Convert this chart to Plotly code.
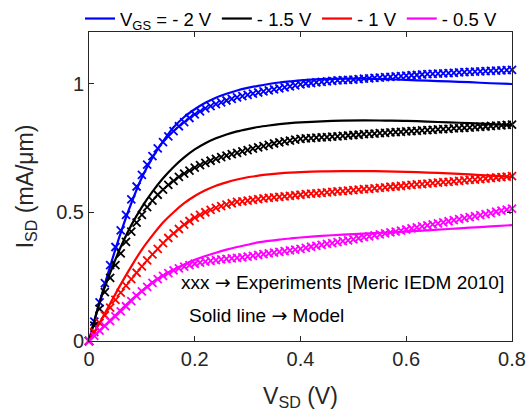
import plotly.graph_objects as go

# ---------------- data ----------------
v_exp = [round(0.01 * i, 2) for i in range(81)]

i_exp_m2 = [0.0, 0.075, 0.15, 0.225, 0.295, 0.365, 0.43, 0.49, 0.55, 0.6, 0.645,
            0.685, 0.718, 0.748, 0.772, 0.795, 0.815, 0.834, 0.85, 0.866, 0.88,
            0.892, 0.903, 0.912, 0.92, 0.927, 0.934, 0.94, 0.946, 0.951, 0.956,
            0.961, 0.965, 0.969, 0.973, 0.977, 0.981, 0.985, 0.989, 0.993, 0.997,
            1.0, 1.002, 1.004, 1.006, 1.008, 1.01, 1.012, 1.013, 1.014, 1.015,
            1.017, 1.019, 1.02, 1.022, 1.023, 1.025, 1.026, 1.028, 1.029, 1.031,
            1.032, 1.033, 1.035, 1.036, 1.037, 1.038, 1.039, 1.04, 1.041, 1.043,
            1.044, 1.045, 1.046, 1.047, 1.048, 1.049, 1.05, 1.051, 1.052, 1.053]

i_exp_m15 = [0.0, 0.06, 0.125, 0.19, 0.245, 0.295, 0.34, 0.385, 0.425, 0.46, 0.49,
             0.52, 0.545, 0.568, 0.588, 0.606, 0.622, 0.637, 0.65, 0.662, 0.673,
             0.683, 0.692, 0.7, 0.707, 0.714, 0.72, 0.726, 0.731, 0.736, 0.741,
             0.747, 0.752, 0.757, 0.762, 0.767, 0.771, 0.775, 0.778, 0.782, 0.785,
             0.787, 0.788, 0.79, 0.791, 0.792, 0.794, 0.795, 0.797, 0.798, 0.8,
             0.801, 0.803, 0.804, 0.805, 0.807, 0.808, 0.81, 0.811, 0.812, 0.814,
             0.815, 0.816, 0.818, 0.819, 0.82, 0.822, 0.823, 0.824, 0.826, 0.827,
             0.828, 0.829, 0.831, 0.832, 0.833, 0.835, 0.836, 0.837, 0.839, 0.84]

i_exp_m1 = [0.0, 0.035, 0.07, 0.1, 0.13, 0.16, 0.188, 0.215, 0.24, 0.265, 0.29,
            0.313, 0.336, 0.358, 0.38, 0.4, 0.418, 0.435, 0.452, 0.466, 0.479,
            0.49, 0.5, 0.509, 0.517, 0.524, 0.53, 0.535, 0.54, 0.542, 0.545,
            0.548, 0.551, 0.554, 0.556, 0.558, 0.56, 0.562, 0.564, 0.566, 0.568,
            0.57, 0.572, 0.573, 0.575, 0.577, 0.579, 0.581, 0.582, 0.584, 0.586,
            0.588, 0.59, 0.591, 0.593, 0.595, 0.597, 0.599, 0.6, 0.602, 0.604,
            0.606, 0.608, 0.609, 0.611, 0.613, 0.615, 0.617, 0.618, 0.62, 0.622,
            0.624, 0.626, 0.627, 0.629, 0.631, 0.633, 0.635, 0.636, 0.638, 0.64]

i_exp_m05 = [0.0, 0.02, 0.04, 0.058, 0.077, 0.096, 0.115, 0.135, 0.155, 0.175, 0.193,
             0.21, 0.226, 0.24, 0.253, 0.264, 0.274, 0.282, 0.289, 0.295, 0.3,
             0.304, 0.308, 0.311, 0.314, 0.317, 0.319, 0.321, 0.323, 0.325, 0.328,
             0.331, 0.334, 0.337, 0.34, 0.343, 0.346, 0.349, 0.352, 0.355, 0.358,
             0.362, 0.366, 0.369, 0.373, 0.377, 0.38, 0.384, 0.388, 0.391, 0.395,
             0.399, 0.403, 0.406, 0.41, 0.414, 0.418, 0.422, 0.425, 0.429, 0.433,
             0.437, 0.441, 0.445, 0.449, 0.453, 0.457, 0.461, 0.465, 0.469, 0.473,
             0.477, 0.481, 0.485, 0.489, 0.493, 0.497, 0.502, 0.506, 0.51, 0.514]

v_mod = [0.0, 0.02, 0.04, 0.06, 0.08, 0.10, 0.12, 0.14, 0.16, 0.18, 0.20,
         0.22, 0.24, 0.26, 0.28, 0.30, 0.32, 0.34, 0.36, 0.38, 0.40,
         0.44, 0.48, 0.52, 0.56, 0.60, 0.64, 0.68, 0.72, 0.76, 0.80]

i_mod_m2 = [0.0, 0.15, 0.29, 0.42, 0.535, 0.635, 0.712, 0.775, 0.83, 0.87, 0.9,
            0.925, 0.945, 0.96, 0.973, 0.983, 0.991, 0.998, 1.004, 1.008, 1.012,
            1.017, 1.019, 1.019, 1.017, 1.014, 1.011, 1.008, 1.005, 1.001, 0.998]

i_mod_m15 = [0.0, 0.15, 0.265, 0.365, 0.45, 0.52, 0.58, 0.632, 0.676, 0.713, 0.744,
             0.768, 0.787, 0.802, 0.814, 0.823, 0.831, 0.837, 0.842, 0.846, 0.849,
             0.853, 0.856, 0.857, 0.856, 0.855, 0.852, 0.849, 0.846, 0.842, 0.838]

i_mod_m1 = [0.0, 0.07, 0.145, 0.22, 0.29, 0.355, 0.41, 0.46, 0.5, 0.535, 0.563,
            0.585, 0.603, 0.616, 0.627, 0.636, 0.642, 0.647, 0.651, 0.654, 0.656,
            0.659, 0.66, 0.66, 0.659, 0.657, 0.654, 0.651, 0.647, 0.642, 0.637]

i_mod_m05 = [0.0, 0.04, 0.08, 0.12, 0.16, 0.195, 0.228, 0.255, 0.277, 0.297, 0.315,
             0.33, 0.343, 0.355, 0.365, 0.374, 0.383, 0.389, 0.394, 0.398, 0.402,
             0.408, 0.413, 0.417, 0.421, 0.425, 0.43, 0.435, 0.44, 0.445, 0.45]

names = ["V<sub>GS</sub> = - 2 V", "- 1.5 V", "- 1 V", "- 0.5 V"]
colors = ["#0000ff", "#000000", "#ff0000", "#ff00ff"]
exp_series = [i_exp_m2, i_exp_m15, i_exp_m1, i_exp_m05]
mod_series = [i_mod_m2, i_mod_m15, i_mod_m1, i_mod_m05]

x_ticks = [0, 0.2, 0.4, 0.6, 0.8]
x_ticklabels = ["0", "0.2", "0.4", "0.6", "0.8"]
y_ticks = [0, 0.5, 1]
y_ticklabels = ["0", "0.5", "1"]

FONT = "Liberation Sans, Arial, sans-serif"
TXT = "#262626"
ARROW = '<span style="font-family:DejaVu Sans">→</span>'

fig = go.Figure()
for name, col, ie, im in zip(names, colors, exp_series, mod_series):
    fig.add_trace(go.Scatter(
        x=v_mod, y=im, mode="lines", name=name,
        line=dict(color=col, width=2.2, shape="spline", smoothing=0.8)))
    fig.add_trace(go.Scatter(
        x=v_exp, y=ie, mode="markers", showlegend=False,
        marker=dict(symbol="x-thin", size=8, color=col,
                    line=dict(color=col, width=1.8)),
        cliponaxis=False))

fig.update_layout(
    width=528, height=418,
    margin=dict(l=89, r=16, t=32, b=77, autoexpand=False),
    paper_bgcolor="white", plot_bgcolor="white",
    font=dict(family=FONT, color=TXT, size=18),
    showlegend=True,
    legend=dict(orientation="h", xref="container", yref="container",
                x=80 / 528, xanchor="left", y=1.0, yanchor="top",
                font=dict(size=18.5, color="#000000"),
                bgcolor="rgba(0,0,0,0)", tracegroupgap=0, traceorder="normal"),
    xaxis=dict(range=[0, 0.8], tickvals=x_ticks, ticktext=x_ticklabels,
               ticks="inside", ticklen=5, tickwidth=1, tickcolor="#262626",
               showline=True, linecolor="#262626", linewidth=1, mirror="ticks",
               showgrid=False, zeroline=False, automargin=False,
               tickfont=dict(size=20, color=TXT),
               title=dict(text="V<sub>SD</sub> (V)", font=dict(size=23, color=TXT), standoff=18)),
    yaxis=dict(range=[0, 1.2], tickvals=y_ticks, ticktext=y_ticklabels,
               ticks="inside", ticklen=5, tickwidth=1, tickcolor="#262626",
               showline=True, linecolor="#262626", linewidth=1, mirror="ticks",
               showgrid=False, zeroline=False, automargin=False,
               tickfont=dict(size=20, color=TXT),
               title=dict(text="I<sub>SD</sub> (mA/μm)", font=dict(size=23, color=TXT), standoff=16)),
)

fig.add_annotation(x=0.17, y=0.229, xref="x", yref="y", xanchor="left", yanchor="middle",
                   text="xxx " + ARROW + " Experiments [Meric IEDM 2010]", showarrow=False,
                   font=dict(size=19, color="#000000", family=FONT))
fig.add_annotation(x=0.185, y=0.10, xref="x", yref="y", xanchor="left", yanchor="middle",
                   text="Solid line " + ARROW + " Model", showarrow=False,
                   font=dict(size=19, color="#000000", family=FONT))

fig.write_html("out.html", config={"displayModeBar": False},
               post_script="document.body.style.margin='0px';")
